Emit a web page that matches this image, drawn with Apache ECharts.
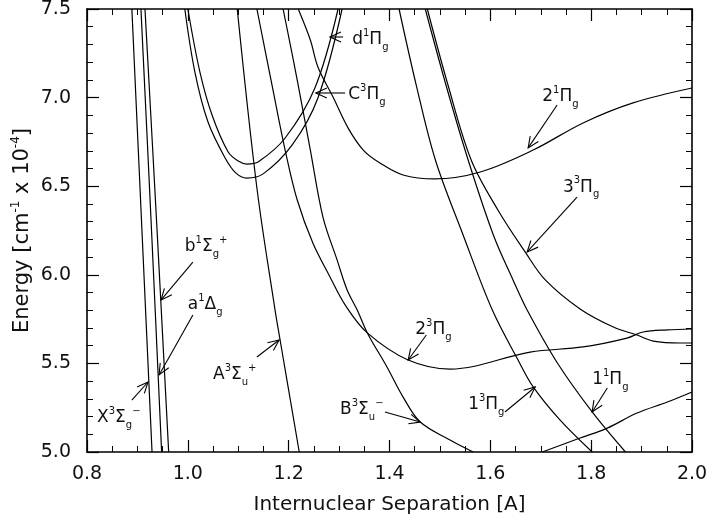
<!DOCTYPE html>
<html>
<head>
<meta charset="utf-8">
<script src="https://cdn.jsdelivr.net/npm/echarts@6/dist/echarts.min.js"></script>
<style>
  html, body { margin: 0; padding: 0; background: #fff; }
  #cv { width: 710px; height: 516px; }
</style>
</head>
<body>
<div id="cv"></div>
<script>
var xTicks = [0.8, 1.0, 1.2, 1.4, 1.6, 1.8, 2.0];
var yTicks = [5.0, 5.5, 6.0, 6.5, 7.0, 7.5];

// potential curves, [r (A), energy (1e4 cm-1)]
var stX = [[0.889, 7.5], [0.909, 6.25], [0.929, 5.0]];
var stA1 = [[0.907, 7.5], [0.928, 6.25], [0.948, 5.0]];
var stB1 = [[0.915, 7.5], [0.939, 6.25], [0.962, 5.0]];
var stD = [[1.000, 7.5], [1.024, 7.144], [1.048, 6.902], [1.080, 6.693], [1.100, 6.642], [1.117, 6.625],
           [1.140, 6.638], [1.193, 6.772], [1.252, 7.054], [1.298, 7.5]];
var stC = [[0.994, 7.5], [1.014, 7.144], [1.040, 6.862], [1.074, 6.659], [1.095, 6.575], [1.117, 6.546],
           [1.150, 6.571], [1.207, 6.733], [1.258, 6.998], [1.306, 7.5]];
var stA3 = [[1.098, 7.5], [1.137, 6.49], [1.173, 5.801], [1.183, 5.632], [1.221, 5.0]];
var st23Pi = [[1.137, 7.5], [1.167, 7.071], [1.193, 6.704], [1.217, 6.422], [1.248, 6.179], [1.282, 5.988],
              [1.312, 5.830], [1.356, 5.672], [1.437, 5.519], [1.520, 5.468], [1.679, 5.564], [1.784, 5.593],
              [1.871, 5.643], [1.903, 5.677], [1.951, 5.689], [2.0, 5.694]];
var stB3 = [[1.189, 7.5], [1.217, 7.099], [1.243, 6.704], [1.268, 6.326], [1.296, 6.084], [1.316, 5.914],
            [1.336, 5.801], [1.356, 5.672], [1.395, 5.480], [1.427, 5.310], [1.461, 5.169], [1.520, 5.068],
            [1.566, 5.0]];
var st21Pi = [[1.219, 7.5], [1.243, 7.325], [1.258, 7.173], [1.288, 7.003], [1.318, 6.828], [1.348, 6.704],
              [1.381, 6.631], [1.427, 6.563], [1.490, 6.541], [1.580, 6.580], [1.685, 6.704], [1.784, 6.857],
              [1.883, 6.970], [2.0, 7.054]];
var st13Pi = [[1.419, 7.5], [1.453, 7.071], [1.491, 6.648], [1.546, 6.225], [1.604, 5.801], [1.655, 5.519],
              [1.685, 5.367], [1.738, 5.181], [1.802, 5.0]];
var st11Pi = [[1.471, 7.5], [1.512, 7.071], [1.556, 6.648], [1.606, 6.225], [1.645, 5.971], [1.673, 5.801],
              [1.733, 5.502], [1.802, 5.226], [1.868, 5.0]];
var st33Pi = [[1.475, 7.5], [1.516, 7.071], [1.562, 6.648], [1.615, 6.366], [1.669, 6.129], [1.709, 5.971],
              [1.778, 5.807], [1.844, 5.705], [1.891, 5.660], [1.923, 5.626], [1.977, 5.615], [2.0, 5.615]];
var stLow = [[1.703, 5.0], [1.778, 5.079], [1.832, 5.135], [1.891, 5.220], [1.951, 5.282], [2.0, 5.339]];

// state labels: text anchor, arrow tail, arrow head
var labelText = ['d{s|1}Π{b|g}', 'C{s|3}Π{b|g}', '2{s|1}Π{b|g}', '3{s|3}Π{b|g}', 'b{s|1}Σ{b|g}{s|+}',
                 'a{s|1}Δ{b|g}', 'A{s|3}Σ{b|u}{s|+}', 'X{s|3}Σ{b|g}{s|−}', 'B{s|3}Σ{b|u}{s|−}',
                 '2{s|3}Π{b|g}', '1{s|3}Π{b|g}', '1{s|1}Π{b|g}'];
var labelPos = [[1.326, 7.325], [1.318, 7.015], [1.703, 7.003], [1.744, 6.495], [0.994, 6.157],
                [1.000, 5.830], [1.050, 5.435], [0.820, 5.192], [1.302, 5.237],
                [1.451, 5.689], [1.556, 5.265], [1.802, 5.406]];
var arrowFrom = [[1.308, 7.342], [1.312, 7.026], [1.7325, 6.958], [1.772, 6.439], [1.010, 6.072],
                 [1.010, 5.773], [1.137, 5.536], [0.889, 5.293], [1.391, 5.226],
                 [1.473, 5.660], [1.629, 5.226], [1.832, 5.361]];
var arrowTo = [[1.282, 7.342], [1.254, 7.026], [1.675, 6.716], [1.673, 6.129], [0.947, 5.858],
               [0.943, 5.435], [1.181, 5.632], [0.921, 5.395], [1.461, 5.169],
               [1.437, 5.519], [1.689, 5.367], [1.802, 5.226]];

var curves = [stX, stA1, stB1, stD, stC, stA3, st23Pi, stB3, st21Pi, st13Pi, st11Pi, st33Pi, stLow];

var annData = labelText.map(function (t, i) {
  return [labelPos[i][0], labelPos[i][1], arrowFrom[i][0], arrowFrom[i][1], arrowTo[i][0], arrowTo[i][1], i];
});

var font = 'DejaVu Sans';

function axisCommon(show) {
  return {
    type: 'value',
    axisLine: { show: true, onZero: false, lineStyle: { color: '#000', width: 1.6 } },
    axisTick: { show: true, inside: true, length: 12, lineStyle: { color: '#000', width: 1.2 } },
    minorTick: { show: true, length: 6, lineStyle: { color: '#000', width: 1 } },
    splitLine: { show: false },
    axisLabel: { show: show, color: '#111', fontFamily: font, fontSize: 19 }
  };
}

var xb = axisCommon(true);
xb.position = 'bottom';
xb.min = xTicks[0]; xb.max = xTicks[xTicks.length - 1]; xb.interval = 0.2;
xb.minorTick.splitNumber = 4;
xb.axisLabel.margin = 13;
xb.axisLabel.formatter = function (v) { return v.toFixed(1); };
xb.name = 'Internuclear Separation [A]';
xb.nameLocation = 'middle';
xb.nameGap = 43;
xb.nameTextStyle = { color: '#111', fontFamily: font, fontSize: 20 };

var xt = axisCommon(false);
xt.position = 'top';
xt.min = xb.min; xt.max = xb.max; xt.interval = 0.2;
xt.minorTick.splitNumber = 4;

var yl = axisCommon(true);
yl.position = 'left';
yl.min = yTicks[0]; yl.max = yTicks[yTicks.length - 1]; yl.interval = 0.5;
yl.minorTick.splitNumber = 5;
yl.axisLabel.margin = 16;
yl.axisLabel.formatter = function (v) { return v.toFixed(1); };
yl.name = 'Energy [cm{s|-1} x 10{s|-4}]';
yl.nameLocation = 'middle';
yl.nameGap = 51;
yl.nameMoveOverlap = false;
yl.nameTextStyle = {
  color: '#111', fontFamily: font, fontSize: 21, lineHeight: 26,
  rich: { s: { fontFamily: font, fontSize: 12, verticalAlign: 'top', lineHeight: 13, color: '#111' } }
};

var yr = axisCommon(false);
yr.position = 'right';
yr.min = yl.min; yr.max = yl.max; yr.interval = 0.5;
yr.minorTick.splitNumber = 5;

var series = curves.map(function (c) {
  return {
    type: 'line',
    data: c,
    xAxisIndex: 0,
    yAxisIndex: 0,
    showSymbol: false,
    smooth: 0.35,
    clip: true,
    silent: true,
    lineStyle: { color: '#000', width: 1.2 }
  };
});

series.push({
  type: 'custom',
  xAxisIndex: 0,
  yAxisIndex: 0,
  silent: true,
  data: annData,
  encode: { x: [0, 2, 4], y: [1, 3, 5] },
  renderItem: function (params, api) {
    var pt = api.coord([api.value(0), api.value(1)]);
    var p0 = api.coord([api.value(2), api.value(3)]);
    var p1 = api.coord([api.value(4), api.value(5)]);
    var i = api.value(6);
    var ang = Math.atan2(p0[1] - p1[1], p0[0] - p1[0]);
    var hl = 12, ha = 0.42;
    var h1 = [p1[0] + hl * Math.cos(ang + ha), p1[1] + hl * Math.sin(ang + ha)];
    var h2 = [p1[0] + hl * Math.cos(ang - ha), p1[1] + hl * Math.sin(ang - ha)];
    var ls = { stroke: '#000', lineWidth: 1.1, fill: null };
    return {
      type: 'group',
      children: [
        { type: 'line', shape: { x1: p0[0], y1: p0[1], x2: p1[0], y2: p1[1] }, style: ls },
        { type: 'polyline', shape: { points: [h1, p1, h2] }, style: ls },
        {
          type: 'text',
          style: {
            x: pt[0], y: pt[1], text: labelText[i],
            fill: '#111', fontFamily: font, fontSize: 17, lineHeight: 24,
            align: 'left', verticalAlign: 'middle',
            rich: {
              s: { fontFamily: font, fontSize: 10, lineHeight: 11, verticalAlign: 'top', fill: '#111' },
              b: { fontFamily: font, fontSize: 10, lineHeight: 11, verticalAlign: 'bottom', fill: '#111' }
            }
          }
        }
      ]
    };
  }
});

var myChart = echarts.init(document.getElementById('cv'), null, { renderer: 'canvas' });
var option = {
  animation: false,
  backgroundColor: '#fff',
  grid: { left: 87, right: 18, top: 9, bottom: 64, containLabel: false, outerBoundsMode: 'none' },
  xAxis: [xb, xt],
  yAxis: [yl, yr],
  series: series
};
myChart.setOption(option);
</script>
</body>
</html>
